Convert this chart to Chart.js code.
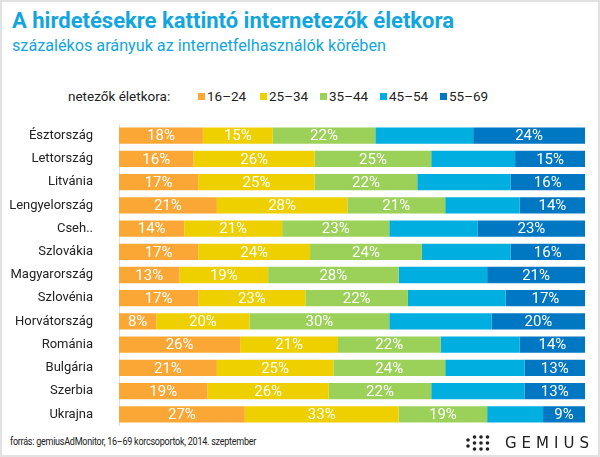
<!DOCTYPE html>
<html lang="hu">
<head>
<meta charset="utf-8">
<title>A hirdetésekre kattintó internetezők életkora</title>
<script src="https://cdn.jsdelivr.net/npm/chart.js@4"></script>
<style>
    html, body { margin: 0; padding: 0; background: #fff; }
    body { font-family: Roboto, "Noto Sans", sans-serif; }
    #frame {
        position: relative;
        width: 596px;
        height: 453px;
        border: 2px solid #e2e2e2;
        overflow: hidden;
    }
    #title {
        position: absolute; left: 10px; top: 6px;
        font-size: 22px; font-weight: 700; color: #12a5de;
        white-space: nowrap;
    }
    #subtitle {
        position: absolute; left: 10px; top: 34px;
        font-size: 16.2px; color: #12a5de;
        white-space: nowrap;
    }
    #legend {
        position: absolute; left: 66px; top: 86px;
        font-size: 13.5px; color: #222;
        white-space: nowrap;
    }
    #legend span.item { position: absolute; top: 0; }
    #legend i {
        display: inline-block; width: 7px; height: 7px;
        margin-right: 2px; vertical-align: 1px;
    }
    #chart { position: absolute; left: -2px; top: 122px; width: 600px; height: 302px; }
    #source {
        position: absolute; left: 8px; top: 433px;
        font-size: 10.5px; color: #222; letter-spacing: -0.3px;
        white-space: nowrap;
        transform: scaleX(0.86); transform-origin: 0 0;
    }
    #logo { position: absolute; left: 463px; top: 431px; width: 132px; height: 20px; }
</style>
</head>
<body>
<div id="frame">
    <div id="title">A hirdetésekre kattintó internetezők életkora</div>
    <div id="subtitle">százalékos arányuk az internetfelhasználók körében</div>
    <div id="legend"><span>netezők életkora:</span></div>
    <canvas id="chart" width="600" height="302"></canvas>
    <div id="source">forrás: gemiusAdMonitor, 16–69 korcsoportok, 2014. szeptember</div>
    <canvas id="logo" width="132" height="20"></canvas>
</div>
<script>
(function () {
    'use strict';

    // Országok és korcsoportok (%)
    const countries = ['Észtország', 'Lettország', 'Litvánia', 'Lengyelország', 'Cseh..',
        'Szlovákia', 'Magyarország', 'Szlovénia', 'Horvátország', 'Románia',
        'Bulgária', 'Szerbia', 'Ukrajna'];
    const groups = ['16–24', '25–34', '35–44', '45–54', '55–69'];

    const age16to24 = [18, 16, 17, 21, 14, 17, 13, 17, 8, 26, 21, 19, 27];
    const age25to34 = [15, 26, 25, 28, 21, 24, 19, 23, 20, 21, 25, 26, 33];
    const age35to44 = [22, 25, 22, 21, 23, 24, 28, 22, 30, 22, 24, 22, 19];
    const age45to54 = [21, 18, 20, 16, 19, 19, 19, 21, 22, 17, 17, 20, 12];
    const age55to69 = [24, 15, 16, 14, 23, 16, 21, 17, 20, 14, 13, 13, 9];

    const colors = ['#fba736', '#eecf00', '#9bd158', '#00afe0', '#0077c3'];
    const series = [age16to24, age25to34, age35to44, age45to54, age55to69];
    const labelled = [true, true, true, false, true];

    // jelmagyarázat
    const legend = document.getElementById('legend');
    const legendX = [130, 192, 252, 312, 372];
    groups.forEach(function (g, i) {
        const s = document.createElement('span');
        s.className = 'item';
        s.style.left = legendX[i] + 'px';
        s.innerHTML = '<i style="background:' + colors[i] + '"></i>' + g;
        legend.appendChild(s);
    });

    // százalék feliratok a sávokon
    const barLabels = {
        id: 'barLabels',
        afterDatasetsDraw(chart) {
            const ctx = chart.ctx;
            ctx.save();
            ctx.fillStyle = '#fff';
            ctx.font = '15px Roboto, "Noto Sans", sans-serif';
            ctx.textAlign = 'center';
            ctx.textBaseline = 'middle';
            chart.data.datasets.forEach(function (ds, di) {
                if (!labelled[di]) {
                    return;
                }
                chart.getDatasetMeta(di).data.forEach(function (bar, i) {
                    ctx.fillText(ds.data[i] + '%', (bar.x + bar.base) / 2, bar.y + 1);
                });
            });
            ctx.restore();
        }
    };

    new Chart(document.getElementById('chart'), {
        type: 'bar',
        data: {
            labels: countries,
            datasets: groups.map(function (g, i) {
                return {
                    label: g,
                    data: series[i],
                    backgroundColor: colors[i],
                    borderWidth: 0,
                    barPercentage: 0.7,
                    categoryPercentage: 1
                };
            })
        },
        options: {
            indexAxis: 'y',
            responsive: false,
            animation: false,
            layout: { padding: { left: 0, right: 15, top: 0, bottom: 0 } },
            plugins: { legend: { display: false }, tooltip: { enabled: false } },
            scales: {
                x: { stacked: true, min: 0, max: 100, display: false },
                y: {
                    stacked: true,
                    grid: { display: false, drawTicks: false },
                    border: { display: true, color: '#e0e0e0', width: 1 },
                    ticks: {
                        color: '#222',
                        padding: 26,
                        autoSkip: false,
                        font: { family: 'Roboto, "Noto Sans", sans-serif', size: 13 }
                    },
                    afterFit(scale) {
                        scale.width = 119;
                        scale.paddingTop = 0;
                        scale.paddingBottom = 0;
                    }
                }
            }
        },
        plugins: [barLabels]
    });

    // GEMIUS logó
    const lg = document.getElementById('logo').getContext('2d');
    lg.fillStyle = '#222';
    const cols = [[5, 11], [2, 8, 14], [2, 8, 14], [2, 8, 14]];
    cols.forEach(function (ys, c) {
        ys.forEach(function (y) {
            lg.beginPath();
            lg.arc(3 + c * 6.5, y + 2, 1.8, 0, Math.PI * 2);
            lg.fill();
        });
    });
    lg.font = '500 15px "DejaVu Sans", sans-serif';
    lg.textBaseline = 'middle';
    let x = 40;
    'GEMIUS'.split('').forEach(function (ch) {
        lg.fillText(ch, x, 11);
        x += lg.measureText(ch).width + 5;
    });
})();
</script>
</body>
</html>
